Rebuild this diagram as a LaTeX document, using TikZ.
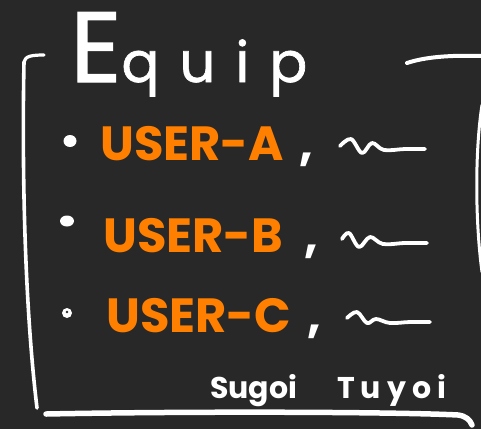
\documentclass[tikz,border=0pt]{standalone}
\usepackage{fontspec}
\setmainfont{Poppins}
\definecolor{board}{RGB}{40,40,40}
\definecolor{chalkorange}{RGB}{255,128,0}

\begin{document}
\begin{tikzpicture}[x=1pt,y=-1pt,
    chalk/.style={draw=white,line cap=round,line join=round,line width=3.2pt},
    squiggle/.style={chalk,line width=3.8pt},
    dotmark/.style={fill=white},
    username/.style={anchor=base west,inner sep=0pt,text=chalkorange,
      font=\fontsize{48}{48}\selectfont\bfseries},
    commamark/.style={anchor=base west,inner sep=0pt,text=white,
      font=\fontsize{48}{48}\selectfont\bfseries}]

  % board
  \fill[board] (0,0) rectangle (481,429);
  \useasboundingbox (0,0) rectangle (481,429);

  % title
  \node[anchor=base west,inner sep=0pt,text=white] (title) at (70,82)
    {\fontsize{100}{100}\selectfont\addfontfeature{FakeBold=1.2}E%
     \fontsize{56}{56}\selectfont\addfontfeature{FakeBold=1.2,LetterSpace=36}quip};

  % frame strokes
  \coordinate (hookend) at (44,55);
  \coordinate (lefttop) at (24,62);
  \coordinate (leftbottom) at (37,408);
  \draw[chalk] (hookend) .. controls (32,55) and (25,56) .. (lefttop);
  \draw[chalk,line width=3.6pt] (lefttop) .. controls (22,160) and (24,300) .. (leftbottom);
  \coordinate (baseleft) at (46,414);
  \coordinate (baseright) at (472,425);
  \draw[chalk,line width=5.5pt] (baseleft) .. controls (200,411) and (400,412) .. (458,415)
    .. controls (466,416) and (470,420) .. (baseright);
  \coordinate (topright1) at (407,63);
  \coordinate (topright2) at (481,56);
  \draw[chalk,line width=4pt] (topright1) .. controls (425,57) and (450,55) .. (topright2);
  \coordinate (rightup) at (482,105);
  \coordinate (rightdown) at (482,272);
  \draw[chalk,line width=3pt] (rightup) .. controls (475,150) and (475,220) .. (rightdown);

  % bullets
  \fill[dotmark] (70,141) circle[x radius=6.5pt,y radius=6pt];
  \fill[dotmark] (67,221) circle[x radius=7pt,y radius=5.5pt];
  \fill[dotmark] (67,313) circle[radius=5pt];
  \fill[board] (67,312) circle[radius=1.3pt];

  % entries
  \node[username] (ua) at (100,160) {USER-A};
  \node[commamark] (ca) at (299,160) {,};
  \node[username] (ub) at (103,252) {USER-B};
  \node[commamark] (cb) at (304,252) {,};
  \node[username] (uc) at (106,332) {USER-C};
  \node[commamark] (cc) at (307,332) {,};

  % squiggles
  \draw[squiggle] plot[smooth,tension=0.6] coordinates
    {(340,146) (351,139) (362,153) (372,143) (384,150) (405,149) (425,149)};
  \draw[squiggle] plot[smooth,tension=0.6] coordinates
    {(342,239) (349,233) (359,247) (370,237) (383,244) (405,243) (427,243)};
  \draw[squiggle] plot[smooth,tension=0.6] coordinates
    {(347,318) (357,312) (367,323) (376,319) (390,323) (410,322) (430,322)};

  % signature
  \node[anchor=base west,inner sep=0pt,text=white,
    font=\fontsize{30}{30}\selectfont\bfseries] (sig) at (210,398)
    {Sugoi\hspace{40pt}{\addfontfeature{LetterSpace=20}Tuyoi}};
\end{tikzpicture}
\end{document}
